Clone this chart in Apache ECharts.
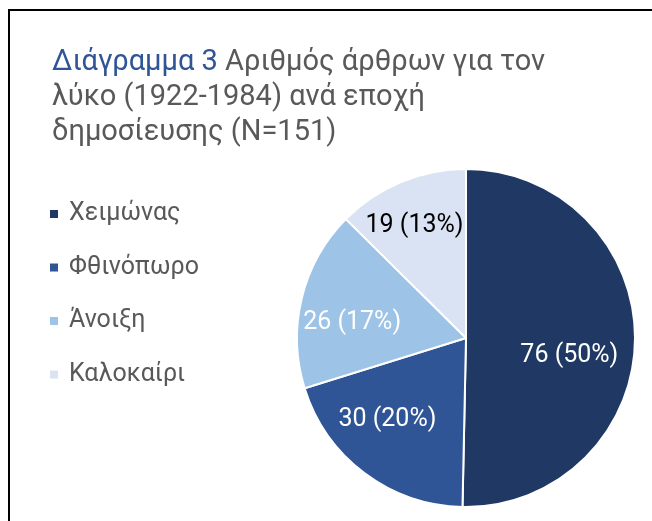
<!DOCTYPE html>
<html>
<head>
<meta charset="utf-8">
<script src="https://cdn.jsdelivr.net/npm/echarts@6/dist/echarts.min.js"></script>
<style>
html,body{margin:0;padding:0;background:#fff;}
#chart{width:652px;height:521px;}
</style>
</head>
<body>
<div id="chart"></div>
<script>
var categories = ['Χειμώνας', 'Φθινόπωρο', 'Άνοιξη', 'Καλοκαίρι'];
var values = [76, 30, 26, 19];
var colors = ['#203864', '#2F5597', '#9DC3E6', '#DAE3F3'];
var labelColors = ['#ffffff', '#ffffff', '#ffffff', '#000000'];
var labelRadiusFactor = [0.62, 0.67, 0.68, 0.73];
var labelAngleShift = [9, 7, -6, -2];

var CX = 466, CY = 338, R = 169;
var FONT = 'Roboto';

var chart = echarts.init(document.getElementById('chart'), null, {renderer: 'canvas'});
var option = {
  backgroundColor: '#ffffff',
  animation: false,
  title: {
    left: 47,
    top: 40,
    text: '{a|Διάγραμμα 3} {b|Αριθμός άρθρων για τον}\n{b|λύκο (1922-1984) ανά εποχή}\n{b|δημοσίευσης (N=151)}',
    textStyle: {
      fontFamily: FONT,
      fontSize: 29,
      fontWeight: 'normal',
      lineHeight: 35,
      rich: {
        a: {color: '#2F5597', fontFamily: FONT, fontSize: 29, fontWeight: 'normal', lineHeight: 35},
        b: {color: '#595959', fontFamily: FONT, fontSize: 29, fontWeight: 'normal', lineHeight: 35}
      }
    }
  },
  legend: {
    orient: 'vertical',
    left: 48,
    top: 197,
    padding: 0,
    itemWidth: 10,
    itemHeight: 10,
    itemGap: 19.5,
    icon: 'rect',
    data: categories,
    textStyle: {
      fontFamily: FONT,
      fontSize: 25,
      color: '#595959',
      lineHeight: 34,
      padding: [0, 0, 0, 5]
    }
  },
  graphic: [{
    type: 'rect',
    shape: {x: 9, y: 10, width: 700, height: 600},
    style: {fill: 'none', stroke: '#000000', lineWidth: 2},
    silent: true
  }],
  series: [{
    type: 'pie',
    center: [CX, CY],
    radius: [0, R],
    startAngle: 90,
    clockwise: true,
    avoidLabelOverlap: false,
    itemStyle: {borderColor: '#ffffff', borderWidth: 2},
    label: {
      show: true,
      position: 'inside',
      fontFamily: FONT,
      fontSize: 25,
      formatter: function (p) { return p.value + ' (' + Math.round(p.percent) + '%)'; }
    },
    labelLine: {show: false},
    labelLayout: function (p) {
      var lr = p.labelRect;
      var lx = lr.x + lr.width / 2 - CX, ly = lr.y + lr.height / 2 - CY;
      var ang = Math.atan2(ly, lx) + labelAngleShift[p.dataIndex] * Math.PI / 180;
      var d = labelRadiusFactor[p.dataIndex] * R;
      return {x: CX + d * Math.cos(ang), y: CY + d * Math.sin(ang), align: 'center', verticalAlign: 'middle'};
    },
    data: categories.map(function (c, i) {
      return {
        name: c, value: values[i],
        itemStyle: {color: colors[i]},
        label: {color: labelColors[i]}
      };
    })
  }]
};
chart.setOption(option);
</script>
</body>
</html>
